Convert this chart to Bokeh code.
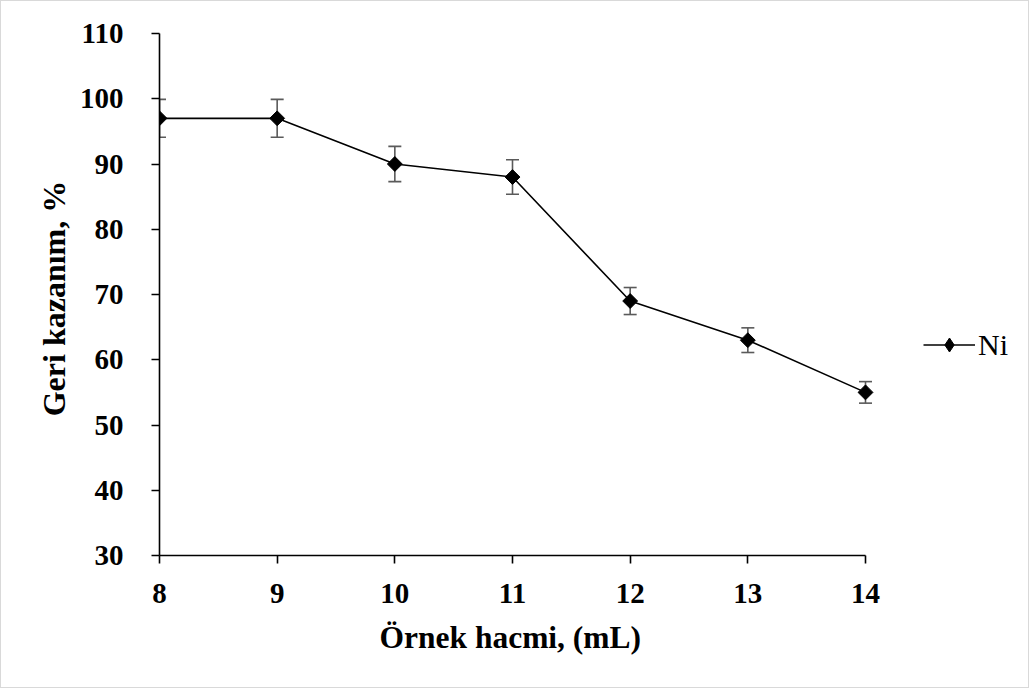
from bokeh.plotting import figure
from bokeh.models import (ColumnDataSource, Whisker, TeeHead, Legend, LegendItem,
                          FixedTicker, Range1d, Title)
from bokeh.embed import file_html
from bokeh.resources import INLINE
import numpy as np

# ---- data ----
volumes = [8, 9, 10, 11, 12, 13, 14]
recovery = [97, 97, 90, 88, 69, 63, 55]
err = [2.91, 2.91, 2.70, 2.64, 2.07, 1.89, 1.65]
x_ticks = [8, 9, 10, 11, 12, 13, 14]
y_ticks = [30, 40, 50, 60, 70, 80, 90, 100, 110]
series_name = "Ni"
x_title = "Örnek hacmi, (mL)"
y_title = "Geri  kazanım, %"

lower = [v - e for v, e in zip(recovery, err)]
upper = [v + e for v, e in zip(recovery, err)]
src = ColumnDataSource(dict(x=volumes, y=recovery, lower=lower, upper=upper))

FONT = "Liberation Serif"

# layout (pixels): axis spans 706 px, frame extends to the right edge so the
# legend (which sits right of the axis) lies inside the frame
AXIS_PX = 706
FRAME_W = 869
x_lo, x_hi = 8, 14
x_end = x_lo + (x_hi - x_lo) * FRAME_W / AXIS_PX

p = figure(frame_width=FRAME_W, frame_height=522, output_backend="svg",
           toolbar_location=None,
           x_range=Range1d(x_lo, x_end), y_range=Range1d(30, 110),
           min_border_left=158, min_border_right=0, min_border_top=32,
           min_border_bottom=132)
p.styles = {"border": "1px solid #d9d9d9"}
p.outline_line_color = None
p.xgrid.visible = False
p.ygrid.visible = False
p.background_fill_color = "white"
p.border_fill_color = "white"

for ax in (p.xaxis[0], p.yaxis[0]):
    ax.axis_line_color = "black"
    ax.axis_line_width = 1.6
    ax.major_tick_line_color = "black"
    ax.major_tick_line_width = 1.6
    ax.major_tick_in = 0
    ax.major_tick_out = 8
    ax.minor_tick_line_color = None
    ax.major_label_text_font = FONT
    ax.major_label_text_font_style = "bold"
    ax.major_label_text_font_size = "29px"
    ax.major_label_text_color = "black"
    ax.axis_label_text_font = FONT
    ax.axis_label_text_font_style = "bold"
    ax.axis_label_text_font_size = "32px"
    ax.axis_label_text_color = "black"

p.xaxis.bounds = (x_lo, x_hi)
p.xaxis.ticker = FixedTicker(ticks=x_ticks)
p.yaxis.ticker = FixedTicker(ticks=y_ticks)
p.yaxis.axis_label = y_title
p.xaxis.major_label_standoff = 20
p.yaxis.major_label_standoff = 28
p.yaxis.axis_label_standoff = 5

xt = Title(text=x_title, align="left", offset=220, standoff=24,
           text_font=FONT, text_font_style="bold", text_font_size="31.5px",
           text_color="black")
p.add_layout(xt, "below")

# error bars
wh = Whisker(source=src, base="x", lower="lower", upper="upper",
             line_color="#5a5a5a", line_width=1.6,
             upper_head=TeeHead(size=13, line_color="#5a5a5a", line_width=1.6),
             lower_head=TeeHead(size=13, line_color="#5a5a5a", line_width=1.6))
p.add_layout(wh)

ln = p.line("x", "y", source=src, line_color="black", line_width=1.6)
# diamond under each marker (hidden by it) – used as the legend swatch
swatch = p.scatter("x", "y", source=src, marker="diamond", size=13,
                   fill_color="black", line_color="black")
mk = p.scatter("x", "y", source=src, marker="square", angle=np.pi / 4, size=10.5,
               fill_color="black", line_color="black")

legend = Legend(items=[LegendItem(label=series_name, renderers=[ln, swatch])],
                location=(764, 193), orientation="vertical",
                padding=0, margin=0, spacing=0,
                border_line_color=None, background_fill_alpha=0,
                glyph_width=52, glyph_height=35, label_standoff=3,
                label_text_font=FONT, label_text_font_size="30px",
                label_text_color="black", label_height=35)
p.add_layout(legend, "center")

open("out.html", "w").write(file_html(p, INLINE))
